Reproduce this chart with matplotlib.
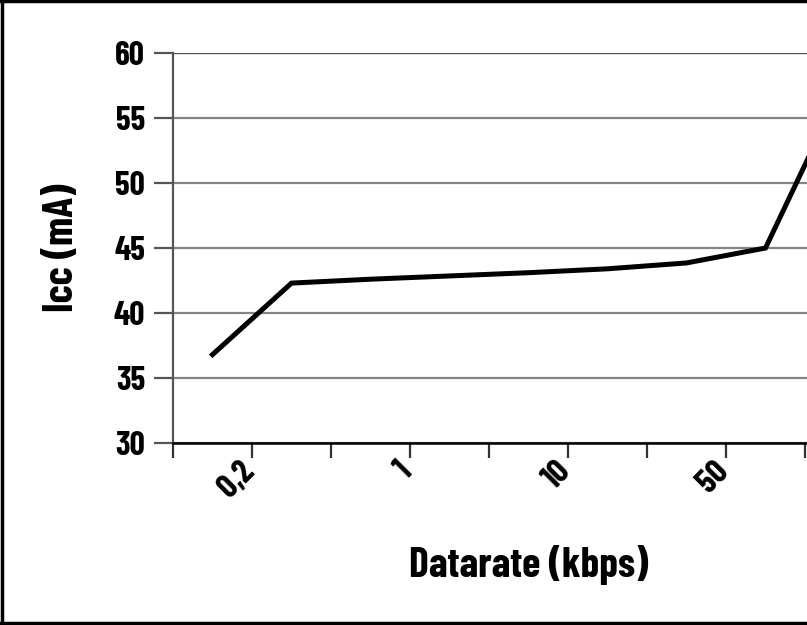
import matplotlib
matplotlib.use("Agg")
import matplotlib.pyplot as plt
from matplotlib.lines import Line2D

plt.rcParams['font.family'] = ['Barlow Condensed', 'DejaVu Sans']
plt.rcParams['font.weight'] = 'bold'

# Data (category axis)
categories = ["0,2", "", "1", "", "10", "", "50", "", ""]
icc_values = [36.8, 42.3, 42.6, 42.85, 43.1, 43.4, 43.85, 45.0, 57.8]
tick_labels = ["0,2", "1", "10", "50"]
y_ticks = [30, 35, 40, 45, 50, 55, 60]

W, H = 807, 625
fig = plt.figure(figsize=(W / 100, H / 100), dpi=100)
fig.patch.set_facecolor('white')

left, right, top, bottom = 173, 884, 53, 443
ax = fig.add_axes([left / W, 1 - bottom / H, (right - left) / W, (bottom - top) / H])

x = list(range(len(icc_values)))
ax.plot(x, icc_values, color='black', lw=3.6, solid_joinstyle='miter', clip_on=False, zorder=5)

ax.set_xlim(-0.5, len(categories) - 0.5)
ax.set_ylim(30, 60)

ax.set_yticks(y_ticks)
ax.set_yticklabels([str(v) for v in y_ticks], fontsize=24, fontweight='bold')
ax.yaxis.grid(True, color='#858585', lw=1.6)
ax.set_axisbelow(True)
ax.tick_params(axis='y', length=14, width=1.6, color='#555555', pad=6)
ax.axhline(60, color='#555555', lw=1.6, zorder=1)

bounds = [i - 0.5 for i in range(len(categories) + 1)]
ax.set_xticks(bounds)
ax.set_xticklabels([""] * len(bounds))
ax.tick_params(axis='x', length=11, width=1.6, color='#333333')

label_pos = [0.5, 2.5, 4.5, 6.5]
for pos, lab in zip(label_pos, tick_labels):
    ax.annotate(lab, xy=(pos, 30), xycoords='data', xytext=(-2, -17), textcoords='offset points',
                rotation=45, ha='right', va='center', rotation_mode='anchor',
                fontsize=24, fontweight='bold', annotation_clip=False)

for s in ['top', 'right']:
    ax.spines[s].set_visible(False)
ax.spines['left'].set_color('#555555')
ax.spines['left'].set_linewidth(1.6)
ax.spines['bottom'].set_color('black')
ax.spines['bottom'].set_linewidth(1.8)

ax.set_ylabel("Icc (mA)", fontsize=30, fontweight='bold', labelpad=24)
ax.set_xlabel("Datarate (kbps)", fontsize=30, fontweight='bold', labelpad=59)

lw = 2.5
fig.add_artist(Line2D([0.002, 0.002], [0, 1], transform=fig.transFigure, color='black', lw=lw))
fig.add_artist(Line2D([0, 1], [0.998, 0.998], transform=fig.transFigure, color='black', lw=lw))
fig.add_artist(Line2D([0, 1], [0.004, 0.004], transform=fig.transFigure, color='black', lw=lw))

fig.savefig("out.png", dpi=100)
